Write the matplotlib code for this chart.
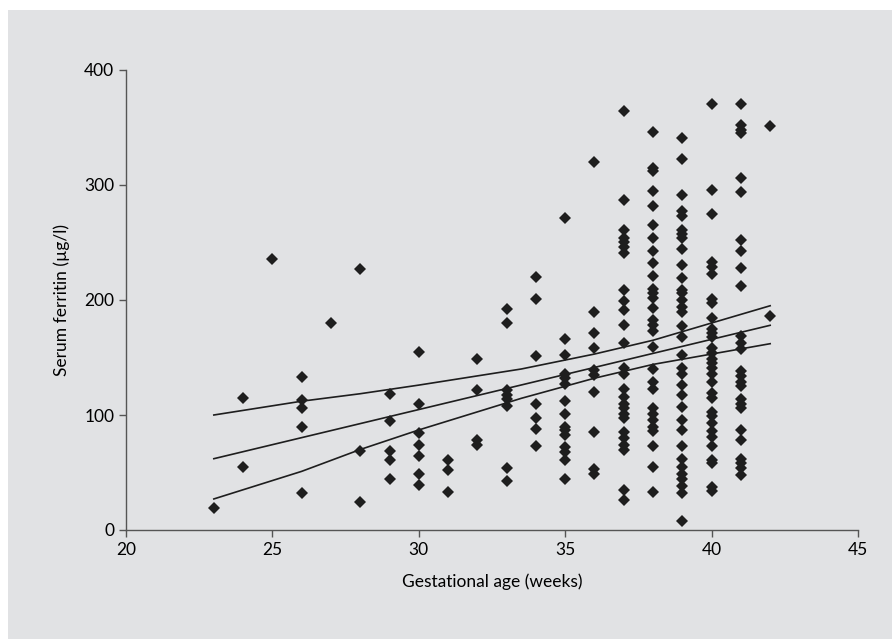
import matplotlib
matplotlib.use('Agg')
import matplotlib.pyplot as plt
from matplotlib.patches import Rectangle

# gestational week and serum ferritin readings (ug/l) per week
weeks = [23, 24, 25, 26, 27, 28, 29, 30, 31, 32, 33, 34, 35, 36, 37, 38, 39, 40, 41, 42]
ferritin_by_week = [
    [19],
    [115, 55],
    [236],
    [133, 113, 106, 90, 32],
    [180],
    [227, 69, 24],
    [118, 95, 69, 61, 44],
    [155, 110, 84, 74, 64, 49, 39],
    [61, 52, 33],
    [149, 122, 78, 74],
    [192, 180, 122, 117, 114, 108, 54, 43],
    [220, 201, 151, 110, 97, 88, 73],
    [271, 166, 152, 136, 132, 127, 112, 101, 90, 87, 83, 72, 68, 61, 44],
    [320, 190, 171, 158, 139, 135, 120, 85, 53, 49],
    [364, 287, 261, 254, 250, 246, 241, 209, 199, 191, 178, 163, 141, 136, 123,
     116, 110, 106, 101, 97, 85, 80, 74, 70, 35, 26],
    [346, 315, 312, 295, 282, 265, 254, 243, 232, 221, 210, 206, 202, 193, 183,
     178, 173, 159, 140, 129, 123, 106, 101, 96, 90, 86, 73, 55, 33],
    [341, 323, 291, 277, 273, 261, 257, 254, 244, 230, 219, 209, 206, 200, 194,
     190, 177, 168, 152, 141, 136, 126, 117, 107, 96, 87, 73, 62, 55, 49, 44,
     38, 32, 8],
    [370, 296, 275, 233, 229, 223, 201, 197, 184, 175, 171, 168, 158, 154, 149,
     145, 141, 136, 129, 119, 115, 103, 99, 93, 86, 81, 73, 61, 58, 37, 34],
    [370, 352, 348, 345, 306, 294, 252, 243, 228, 212, 169, 163, 157, 138, 134,
     129, 125, 114, 110, 106, 87, 78, 62, 58, 54, 48],
    [351, 186],
]

# regression line and confidence band
fit_weeks = [23, 42]
fit_vals = [62, 178]
band_weeks = [23, 26, 28, 30, 33.5, 36, 38, 40, 42]
band_upper = [100, 112, 118.5, 126, 140, 153, 165, 180, 195]
band_lower = [27, 51, 70, 87, 114.5, 132, 144, 153, 162]

bg = '#e1e2e4'
plt.rcParams['font.family'] = ['Lato', 'DejaVu Sans']

fig = plt.figure(figsize=(8.92, 6.39), dpi=100)
fig.patches.append(Rectangle((8 / 892, 0), 1, 1 - 10 / 639, transform=fig.transFigure,
                             facecolor=bg, edgecolor='none', zorder=-1))
ax = fig.add_axes([126 / 892, 109 / 639, 732 / 892, 460 / 639])
ax.set_facecolor(bg)

xs, ys = [], []
for w, vals in zip(weeks, ferritin_by_week):
    xs += [w] * len(vals)
    ys += vals
ax.plot(xs, ys, linestyle='none', marker='D', markersize=6.6,
        color='#1e1e1e', markeredgewidth=0, zorder=3)

ax.plot(fit_weeks, fit_vals, color='#1e1e1e', lw=1.2)
ax.plot(band_weeks, band_upper, color='#1e1e1e', lw=1.2)
ax.plot(band_weeks, band_lower, color='#1e1e1e', lw=1.2)

ax.set_xlim(20, 45)
ax.set_ylim(0, 400)
ax.set_xticks([20, 25, 30, 35, 40, 45])
ax.set_yticks([0, 100, 200, 300, 400])
for s in ['top', 'right']:
    ax.spines[s].set_visible(False)
for s in ['left', 'bottom']:
    ax.spines[s].set_color('#555555')
    ax.spines[s].set_linewidth(1.0)
ax.tick_params(colors='#555555', length=5, width=1.0, labelsize=12.5, labelcolor='black')
ax.set_xlabel('Gestational age (weeks)', fontsize=12.5, labelpad=11)
ax.set_ylabel('Serum ferritin (µg/l)', fontsize=12.5, labelpad=10)

plt.savefig('out.png', dpi=100)
plt.close('all')
